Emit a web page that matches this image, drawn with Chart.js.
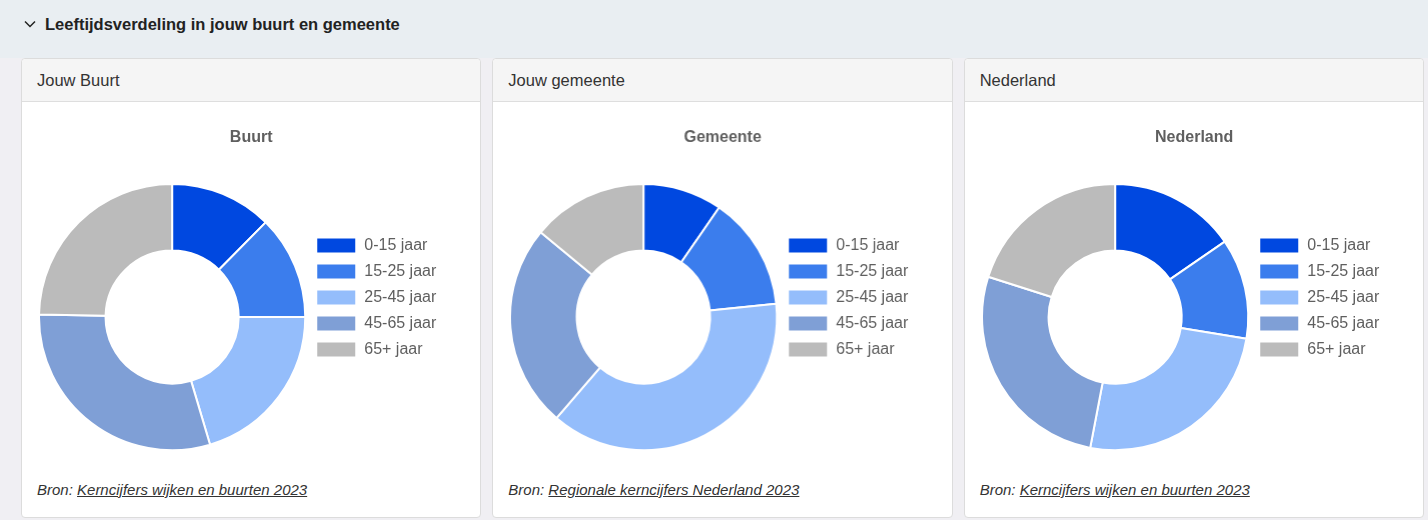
<!DOCTYPE html>
<html lang="nl">
<head>
<meta charset="utf-8">
<title>Leeftijdsverdeling</title>
<script src="https://cdn.jsdelivr.net/npm/chart.js@4.4.1/dist/chart.umd.min.js"></script>
<style>
  html, body { margin: 0; padding: 0; }
  body {
    width: 1428px; height: 520px; overflow: hidden;
    background: #f0eff3;
    font-family: 'Liberation Sans', Arial, sans-serif;
  }
  .section-head {
    height: 48px; background: #e9eef2;
    display: flex; align-items: center;
    padding-left: 24px; box-sizing: border-box;
    font-weight: bold; font-size: 16.5px; color: #222;
  }
  .section-head svg { margin-right: 9px; }
  .cards {
    display: flex; gap: 11px;
    padding: 10px 4px 0 21px;
    background: linear-gradient(#e9eef2 0, #e9eef2 10px, #f0eff3 10px);
  }
  .card {
    flex: 1; height: 460px; box-sizing: border-box;
    background: #fff; border: 1px solid #dcdcdc; border-radius: 4px;
    display: flex; flex-direction: column;
  }
  .card-head {
    height: 43px; box-sizing: border-box;
    background: #f5f5f5; border-bottom: 1px solid #dedede;
    border-radius: 4px 4px 0 0;
    padding: 12px 0 0 15px;
    font-size: 16.5px; color: #333;
  }
  .card-body { padding: 16px 16px 0 16px; }
  .chart-box { position: relative; height: 359px; }
  .source {
    padding: 4px 0 0 15px;
    font-style: italic; font-size: 15px; color: #333;
  }
  .source a { color: #333; text-decoration: underline; }
</style>
</head>
<body>
<div class="section-head">
  <svg width="12" height="8" viewBox="0 0 12 8"><polyline points="1,1.5 6,6.5 11,1.5" fill="none" stroke="#222" stroke-width="1.5"/></svg>
  Leeftijdsverdeling in jouw buurt en gemeente
</div>
<div class="cards">
  <div class="card">
    <div class="card-head">Jouw Buurt</div>
    <div class="card-body"><div class="chart-box"><canvas id="buurtChart"></canvas></div></div>
    <div class="source">Bron: <a href="#">Kerncijfers wijken en buurten 2023</a></div>
  </div>
  <div class="card">
    <div class="card-head">Jouw gemeente</div>
    <div class="card-body"><div class="chart-box"><canvas id="gemeenteChart"></canvas></div></div>
    <div class="source">Bron: <a href="#">Regionale kerncijfers Nederland 2023</a></div>
  </div>
  <div class="card">
    <div class="card-head">Nederland</div>
    <div class="card-body"><div class="chart-box"><canvas id="nederlandChart"></canvas></div></div>
    <div class="source">Bron: <a href="#">Kerncijfers wijken en buurten 2023</a></div>
  </div>
</div>

<script>
// Age groups (legend labels)
var ageGroups = ['0-15 jaar', '15-25 jaar', '25-45 jaar', '45-65 jaar', '65+ jaar'];

// Share per age group, in percent
var buurtValues = [12.4, 12.6, 20.4, 29.9, 24.7];
var gemeenteValues = [9.6, 13.8, 37.9, 24.7, 14.0];
var nederlandValues = [15.4, 12.2, 25.4, 26.9, 20.1];

var sliceColors = ['#0048e0', '#3b7ded', '#94bdfb', '#7f9fd6', '#bbbbbb'];

Chart.defaults.font.family = "'Liberation Sans', Arial, sans-serif";
Chart.defaults.color = '#5f5f5f';

// Give the legend some extra room on its right side
var legendMargin = {
    id: 'legendMargin',
    beforeInit: function (chart) {
        var fit = chart.legend.fit;
        chart.legend.fit = function () {
            fit.bind(chart.legend)();
            this.width += 18;
        };
    }
};

// Build one doughnut chart
var makeChart = function (id, title, values) {
    var ctx = document.getElementById(id).getContext('2d');
    return new Chart(ctx, {
        type: 'doughnut',
        data: {
            labels: ageGroups,
            datasets: [{
                data: values,
                backgroundColor: sliceColors,
                borderColor: '#fff',
                borderWidth: 2,
                hoverOffset: 0
            }]
        },
        options: {
            responsive: true,
            maintainAspectRatio: false,
            animation: false,
            cutout: '50%',
            layout: {
                padding: { left: 0, right: 0 }
            },
            plugins: {
                title: {
                    display: true,
                    text: title,
                    font: { size: 16, weight: 'bold' },
                    padding: 10
                },
                legend: {
                    position: 'right',
                    labels: {
                        font: { size: 16 },
                        boxWidth: 40,
                        padding: 10
                    }
                }
            }
        },
        plugins: [legendMargin]
    });
};

makeChart('buurtChart', 'Buurt', buurtValues);
makeChart('gemeenteChart', 'Gemeente', gemeenteValues);
makeChart('nederlandChart', 'Nederland', nederlandValues);
</script>
</body>
</html>
